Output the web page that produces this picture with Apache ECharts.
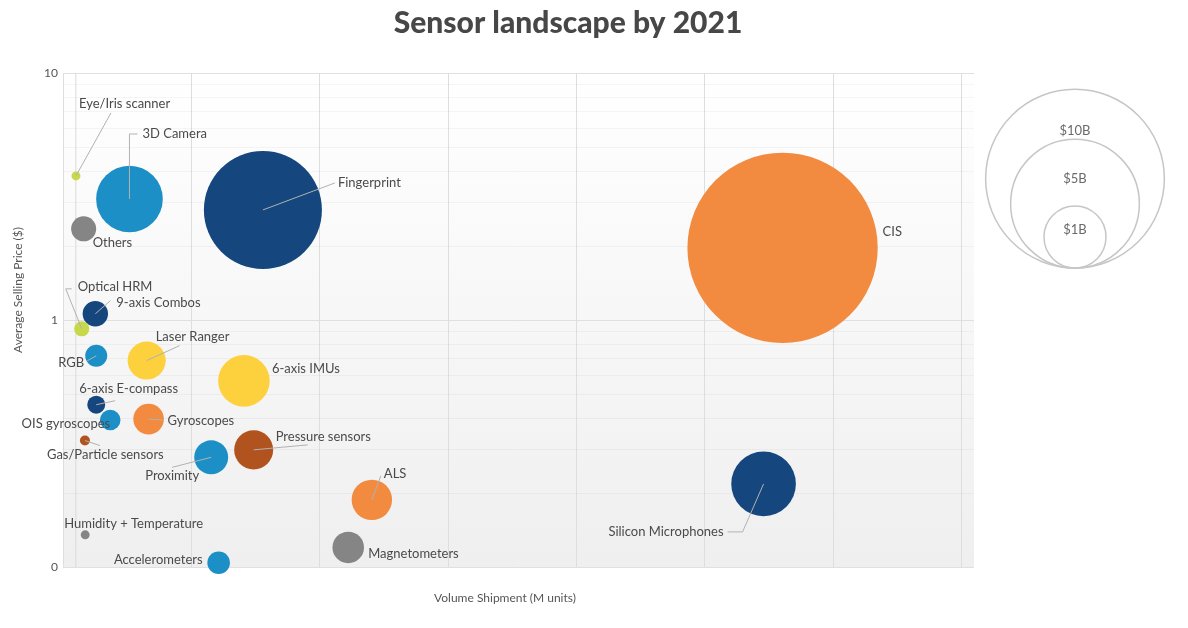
<!DOCTYPE html>
<html>
<head>
<meta charset="utf-8">
<title>Sensor landscape by 2021</title>
<script src="https://cdn.jsdelivr.net/npm/echarts@6/dist/echarts.min.js"></script>
<style>
  html, body { margin: 0; padding: 0; background: #ffffff; }
  #chart { width: 1188px; height: 628px; }
</style>
</head>
<body>
<div id="chart"></div>
<script>
// ---- Data -------------------------------------------------------------
const sensors = [
  'CIS', 'Fingerprint', 'Silicon Microphones', '3D Camera', '6-axis IMUs',
  'ALS', 'Pressure sensors', 'Laser Ranger', 'Proximity', 'Gyroscopes',
  'Magnetometers', 'Others', '9-axis Combos', 'Optical HRM', 'RGB',
  'Accelerometers', '6-axis E-compass', 'OIS gyroscopes',
  'Gas/Particle sensors', 'Humidity + Temperature', 'Eye/Iris scanner'
];
// Volume shipment, M units
const volumeMUnits = [
  5508, 1458, 5360, 418, 1310,
  2307, 1386, 552, 1055, 567,
  2123, 61, 152, 46, 159,
  1113, 159, 268,
  71, 73, 1
];
// Average selling price, $
const avgSellingPrice = [
  1.96, 2.79, 0.217, 3.09, 0.567,
  0.187, 0.298, 0.685, 0.278, 0.397,
  0.12, 2.34, 1.06, 0.921, 0.716,
  0.104, 0.454, 0.394,
  0.325, 0.135, 3.83
];
// Market size, $B
const revenueBn = [
  11.4, 4.15, 1.10, 1.18, 0.65,
  0.36, 0.33, 0.31, 0.23, 0.175,
  0.19, 0.10, 0.104, 0.017, 0.067,
  0.073, 0.034, 0.054,
  0.0014, 0.0003, 0.0003
];
const priceTicks = [0.1, 1, 10];
const priceTickLabels = ['0', '1', '10'];
const legendRevenueBn = [10, 5, 1];
const legendLabels = ['$10B', '$5B', '$1B'];

// ---- Styles -----------------------------------------------------------
const palette = {
  navy: '#15467d', blue: '#1b8fc6', orange: '#f28a3f', yellow: '#fdd03d',
  lime: '#c8d84b', grey: '#858585', brown: '#b0531f'
};
const colourOf = {
  'CIS': 'orange', 'Fingerprint': 'navy', 'Silicon Microphones': 'navy',
  '3D Camera': 'blue', '6-axis IMUs': 'yellow', 'ALS': 'orange',
  'Pressure sensors': 'brown', 'Laser Ranger': 'yellow', 'Proximity': 'blue',
  'Gyroscopes': 'orange', 'Magnetometers': 'grey', 'Others': 'grey',
  '9-axis Combos': 'navy', 'Optical HRM': 'lime', 'RGB': 'blue',
  'Accelerometers': 'blue', '6-axis E-compass': 'navy', 'OIS gyroscopes': 'blue',
  'Gas/Particle sensors': 'brown', 'Humidity + Temperature': 'grey',
  'Eye/Iris scanner': 'lime'
};
// Label placement in pixels relative to the bubble centre; "line" is the leader path.
const placement = {
  'Eye/Iris scanner':       { dx: 3,   dy: -72, align: 'left',  line: [[35, -63]] },
  '3D Camera':              { dx: 13,  dy: -65, align: 'left',  line: [[0, -65], [8, -65]] },
  'Others':                 { dx: 9,   dy: 14,  align: 'left' },
  'Fingerprint':            { dx: 75,  dy: -27, align: 'left',  line: [[72, -27]] },
  'CIS':                    { dx: 100, dy: -16, align: 'left' },
  'Optical HRM':            { dx: -4,  dy: -42, align: 'left',  line: [[-16, -40], [-10, -40]] },
  '9-axis Combos':          { dx: 21,  dy: -11, align: 'left',  line: [[15, -13]] },
  'RGB':                    { dx: -12, dy: 7,   align: 'right', line: [[-9, 5]] },
  'Laser Ranger':           { dx: 9,   dy: -24, align: 'left',  line: [[33, -15]] },
  '6-axis IMUs':            { dx: 28,  dy: -12, align: 'left' },
  '6-axis E-compass':       { dx: -17, dy: -16, align: 'left',  line: [[19, -4]] },
  'OIS gyroscopes':         { dx: 0,   dy: 4,   align: 'right' },
  'Gyroscopes':             { dx: 19,  dy: 2,   align: 'left',  line: [[15, 1]] },
  'Gas/Particle sensors':   { dx: -38, dy: 14,  align: 'left',  line: [[15, 5]] },
  'Proximity':              { dx: -12, dy: 18,  align: 'right', line: [[-39, 10]] },
  'Pressure sensors':       { dx: 22,  dy: -13, align: 'left',  line: [[54, -5]] },
  'Humidity + Temperature': { dx: -21, dy: -11, align: 'left' },
  'Accelerometers':         { dx: -16, dy: -3,  align: 'right' },
  'Magnetometers':          { dx: 20,  dy: 6,   align: 'left' },
  'ALS':                    { dx: 12,  dy: -26, align: 'left',  line: [[9, -24]] },
  'Silicon Microphones':    { dx: -40, dy: 48,  align: 'right', line: [[-21, 48], [-36, 48]] }
};
const FONT = 'Lato, "Open Sans", sans-serif';
const TEXT = '#4a4a4a';

// Bubble radius in px for a market size in $B
function bubbleRadius(bn) { return 4 + 27 * Math.sqrt(bn); }

// Faint log-scale minor grid values (2..9 in each decade)
const minorPrices = [];
[0.1, 1].forEach(d => { for (let k = 2; k <= 9; k++) minorPrices.push(+(d * k).toFixed(2)); });

const points = sensors.map((name, i) => ({
  name,
  value: [volumeMUnits[i], avgSellingPrice[i], revenueBn[i], i],
  itemStyle: { color: palette[colourOf[name]], opacity: 1 }
}));

// ---- Legend for bubble sizes ----------------------------------------
const legendCx = 1075, legendBottom = 268;
const legendLabelDy = [42, 40, 24];
const legendGraphics = [];
legendRevenueBn.forEach((bn, i) => {
  const r = bubbleRadius(bn);
  legendGraphics.push({
    type: 'circle', shape: { cx: legendCx, cy: legendBottom - r, r },
    style: { fill: 'none', stroke: '#c6c6c6', lineWidth: 1.5 }, silent: true
  });
  legendGraphics.push({
    type: 'text', x: legendCx, y: legendBottom - 2 * r + legendLabelDy[i],
    style: { text: legendLabels[i], align: 'center', verticalAlign: 'middle',
             fill: '#6a6a6a', font: '13px ' + FONT }, silent: true
  });
});

const chart = echarts.init(document.getElementById('chart'), null, { renderer: 'canvas' });

chart.setOption({
  animation: false,
  backgroundColor: '#ffffff',
  title: {
    text: 'Sensor landscape by 2021',
    left: 563, top: 3, textAlign: 'center',
    textStyle: { fontFamily: FONT, fontWeight: 900, fontSize: 30, color: '#474747' }
  },
  grid: {
    left: 63, top: 73, right: 214, bottom: 61, containLabel: false,
    show: true, borderWidth: 0,
    backgroundColor: new echarts.graphic.LinearGradient(0, 0, 0, 1, [
      { offset: 0, color: '#ffffff' }, { offset: 1, color: '#efefef' }
    ])
  },
  xAxis: {
    type: 'value', min: -100, max: 7000, interval: 1000,
    axisLine: { show: false }, axisTick: { show: false }, axisLabel: { show: false },
    splitLine: { show: true, showMaxLine: false, lineStyle: { color: '#dedede', width: 1 } }
  },
  yAxis: {
    type: 'log', logBase: 10, min: 0.1, max: 10,
    axisLine: { show: false }, axisTick: { show: false },
    axisLabel: {
      margin: 5, color: '#555', fontFamily: FONT, fontSize: 12,
      formatter: v => {
        const k = priceTicks.findIndex(t => Math.abs(t - v) < 1e-9);
        return k >= 0 ? priceTickLabels[k] : '';
      }
    },
    splitLine: { show: true, lineStyle: { color: '#e0e0e0', width: 1 } }
  },
  graphic: [
    {
      type: 'text', x: 18, y: 290, rotation: Math.PI / 2,
      style: { text: 'Average Selling Price ($)', align: 'center', verticalAlign: 'middle',
               fill: '#555', font: '12px ' + FONT }, silent: true
    },
    {
      type: 'text', x: 505, y: 598,
      style: { text: 'Volume Shipment (M units)', align: 'center', verticalAlign: 'middle',
               fill: '#555', font: '12px ' + FONT }, silent: true
    },
    ...legendGraphics
  ],
  series: [
    {
      // minor log gridlines and the zero-volume line, kept behind the bubbles
      type: 'custom', z: 1, silent: true, clip: true,
      data: minorPrices.map(v => [0, v]).concat([[0, null]]),
      renderItem(params, api) {
        const cs = params.coordSys;
        if (params.dataIndex === minorPrices.length) {
          const x0 = api.coord([0, 1])[0];
          return { type: 'line', shape: { x1: x0, y1: cs.y, x2: x0, y2: cs.y + cs.height },
                   style: { stroke: '#dadada', lineWidth: 1 } };
        }
        const y = Math.round(api.coord([0, api.value(1)])[1]) + 0.5;
        return { type: 'line', shape: { x1: cs.x, y1: y, x2: cs.x + cs.width, y2: y },
                 style: { stroke: 'rgba(0,0,0,0.035)', lineWidth: 1 } };
      }
    },
    {
      name: 'Sensors', type: 'scatter', z: 2, clip: false,
      data: points,
      symbol: 'circle',
      symbolSize: val => 2 * bubbleRadius(val[2]),
      emphasis: { disabled: true }
    },
    {
      // leader lines and names
      type: 'custom', z: 3, silent: true, clip: false,
      data: sensors.map((n, i) => [volumeMUnits[i], avgSellingPrice[i], i]),
      renderItem(params, api) {
        const i = params.dataIndex;
        const name = sensors[i];
        const c = api.coord([api.value(0), api.value(1)]);
        const p = placement[name];
        const children = [];
        if (p.line) {
          const pts = [[0, 0]].concat(p.line).map(([dx, dy]) => [c[0] + dx, c[1] + dy]);
          children.push({ type: 'polyline', shape: { points: pts },
                          style: { stroke: '#b2b2b2', lineWidth: 1, fill: 'none' } });
        }
        children.push({
          type: 'text', x: c[0] + p.dx, y: c[1] + p.dy,
          style: { text: name, align: p.align, verticalAlign: 'middle',
                   fill: TEXT, font: '13px ' + FONT }
        });
        return { type: 'group', children };
      }
    }
  ]
});
</script>
</body>
</html>
